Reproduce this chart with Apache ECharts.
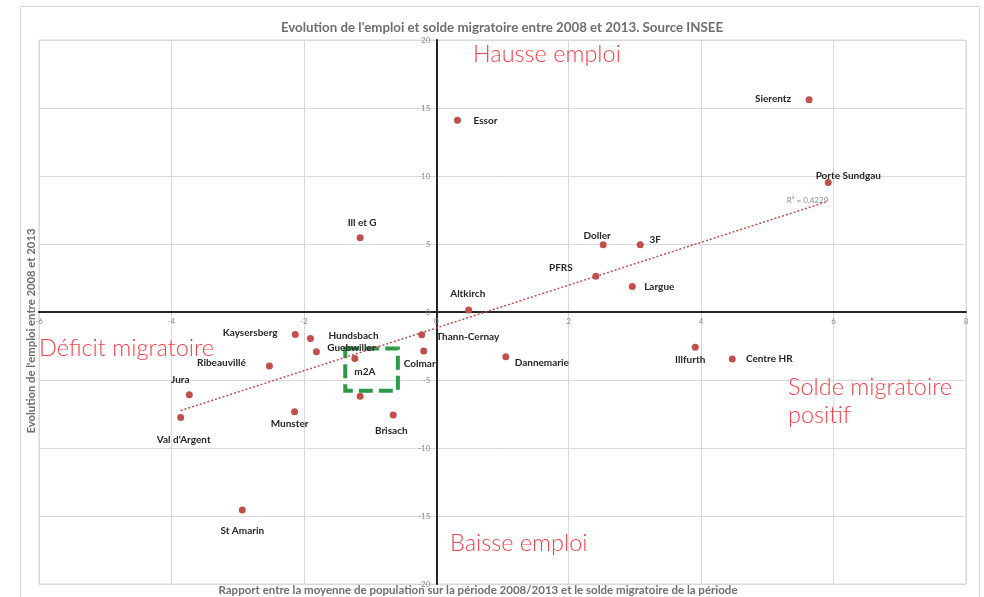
<!DOCTYPE html>
<html>
<head>
<meta charset="utf-8">
<script src="https://cdn.jsdelivr.net/npm/echarts@6/dist/echarts.min.js"></script>
<style>
  html, body { margin: 0; padding: 0; background: #fff; }
  #chart { width: 984px; height: 597px; }
</style>
</head>
<body>
<div id="chart"></div>
<script>
// communes / intercommunalités
var names = ["Essor", "Sierentz", "Porte Sundgau", "Doller", "3F", "PFRS", "Largue",
  "Ill et G", "Altkirch", "Kaysersberg", "Hundsbach", "Guebwiller", "Ribeauvillé",
  "m2A", "", "Brisach", "Colmar", "Thann-Cernay", "Jura", "Val d'Argent", "Munster",
  "St Amarin", "Dannemarie", "Illfurth", "Centre HR"];
// rapport population / solde migratoire
var xVals = [0.32, 5.63, 5.92, 2.52, 3.08, 2.41, 2.96,
  -1.15, 0.49, -2.13, -1.90, -1.81, -2.52,
  -1.23, -1.15, -0.65, -0.19, -0.22, -3.73, -3.86, -2.14,
  -2.93, 1.05, 3.91, 4.47];
// évolution de l'emploi
var yVals = [14.1, 15.6, 9.53, 4.95, 4.95, 2.62, 1.88,
  5.46, 0.15, -1.65, -1.94, -2.92, -3.97,
  -3.41, -6.2, -7.57, -2.87, -1.67, -6.08, -7.75, -7.33,
  -14.56, -3.29, -2.6, -3.46];
var xTicks = [-6, -4, -2, 0, 2, 4, 6, 8];
var yTicks = [-20, -15, -10, -5, 0, 5, 10, 15, 20];

// décalage des étiquettes par rapport au point (px)
var labelOffset = {
  "Essor": [28, 1], "Sierentz": [-36, -1], "Porte Sundgau": [20, -7],
  "Doller": [-6, -9], "3F": [15, -5], "PFRS": [-35, -9], "Largue": [27, 0],
  "Ill et G": [2, -15], "Altkirch": [-1, -16], "Kaysersberg": [-45, -2],
  "Hundsbach": [43, -3], "Guebwiller": [35, -4], "Ribeauvillé": [-48, -3],
  "m2A": [10, 13], "Brisach": [-2, 16], "Colmar": [-4, 13],
  "Thann-Cernay": [46, 2], "Jura": [-9, -15], "Val d'Argent": [3, 22],
  "Munster": [-5, 12], "St Amarin": [0, 21], "Dannemarie": [36, 6],
  "Illfurth": [-5, 12], "Centre HR": [37, 0]
};

var W = 984, H = 597;
var gLeft = 39, gRight = 18, gTop = 40, gBottom = 13;
var xMinA = xTicks[0], xMaxA = xTicks[xTicks.length - 1];
var yMinA = yTicks[0], yMaxA = yTicks[yTicks.length - 1];
// décalage des axes pour qu'ils passent par zéro (avec leurs étiquettes)
var plotW = W - gLeft - gRight, plotH = H - gTop - gBottom;
var yAxisShift = (0 - xMinA) / (xMaxA - xMinA) * plotW;
var xAxisShift = (0 - yMinA) / (yMaxA - yMinA) * plotH;

var chartDom = document.getElementById("chart");
var myChart = echarts.init(chartDom);

var points = names.map(function (n, i) {
  return {
    name: n,
    value: [xVals[i], yVals[i]],
    label: { offset: labelOffset[n] || [0, 0] }
  };
});

// courbe de tendance linéaire (moindres carrés)
var n = xVals.length, sx = 0, sy = 0, sxx = 0, sxy = 0;
for (var i = 0; i < n; i++) {
  sx += xVals[i]; sy += yVals[i];
  sxx += xVals[i] * xVals[i]; sxy += xVals[i] * yVals[i];
}
var slope = (n * sxy - sx * sy) / (n * sxx - sx * sx);
var inter = (sy - slope * sx) / n;
var xMin = Math.min.apply(null, xVals), xMax = Math.max.apply(null, xVals);
var trend = [[xMin, inter + slope * xMin], [xMax, inter + slope * xMax]];

var red = "#F0444A";
var quadFont = { fontFamily: "Lato", fontWeight: 300, fontSize: 23.5, fill: red, verticalAlign: "middle" };
function quad(txt, x, y) {
  return { type: "text", x: x, y: y, z: 10, style: Object.assign({ text: txt }, quadFont) };
}

var option = {
  animation: false,
  textStyle: { fontFamily: "Lato" },
  title: {
    text: "Evolution de l'emploi et solde migratoire entre 2008 et 2013. Source INSEE",
    left: 497,
    textAlign: "center",
    top: 16,
    textStyle: { fontSize: 13.3, fontWeight: "bold", color: "#6e6e6e", fontFamily: "Lato" }
  },
  grid: {
    left: gLeft, right: gRight, top: gTop, bottom: gBottom,
    show: true, borderColor: "#d9d9d9", borderWidth: 1
  },
  xAxis: {
    type: "value",
    min: xMinA, max: xMaxA, interval: 2,
    position: "bottom",
    offset: -xAxisShift,
    axisLine: { onZero: false, lineStyle: { color: "#262626", width: 2 } },
    axisTick: { show: false },
    axisLabel: { color: "#8c8c8c", fontSize: 8, margin: 5 },
    splitLine: { lineStyle: { color: "#d9d9d9" } }
  },
  yAxis: {
    type: "value",
    min: yMinA, max: yMaxA, interval: 5,
    position: "left",
    offset: -yAxisShift,
    axisLine: { onZero: false, lineStyle: { color: "#262626", width: 2 } },
    axisTick: { show: false },
    axisLabel: { color: "#8c8c8c", fontSize: 8, margin: 6 },
    splitLine: { lineStyle: { color: "#d9d9d9" } }
  },
  series: [
    {
      type: "line",
      data: trend,
      showSymbol: false,
      symbol: "none",
      silent: true,
      lineStyle: { color: "#C0504D", width: 1.5, type: [2, 2] },
      endLabel: {
        show: true,
        formatter: "R² = 0,4229",
        color: "#8c8c8c",
        fontSize: 8,
        align: "right",
        offset: [-8, -1]
      },
      z: 3
    },
    {
      type: "scatter",
      data: points,
      symbolSize: 7,
      itemStyle: { color: "#C0504D", opacity: 1 },
      label: {
        show: true,
        position: "inside",
        formatter: "{b}",
        color: "#262626",
        fontSize: 10,
        fontWeight: "bold",
        fontFamily: "Lato"
      },
      markArea: {
        silent: true,
        itemStyle: {
          color: "transparent",
          borderColor: "#2E9A47",
          borderWidth: 4,
          borderType: [14, 6]
        },
        data: [[{ coord: [-1.375, -2.68] }, { coord: [-0.58, -5.79] }]]
      },
      z: 4
    }
  ],
  graphic: [
    {
      type: "rect",
      silent: true,
      shape: { x: 20.5, y: 6.5, width: 959, height: 620 },
      style: { fill: "none", stroke: "#d9d9d9", lineWidth: 1 },
      z: -1
    },
    {
      type: "text",
      x: 478, y: 590,
      style: {
        text: "Rapport entre la moyenne de population sur la période 2008/2013 et le solde migratoire de la période",
        align: "center", verticalAlign: "middle",
        fontSize: 11.5, fontWeight: "bold", fill: "#6e6e6e", fontFamily: "Lato"
      }
    },
    {
      type: "text",
      x: 31, y: 331,
      rotation: Math.PI / 2,
      style: {
        text: "Evolution de l'emploi entre 2008 et 2013",
        align: "center", verticalAlign: "middle",
        fontSize: 11.3, fontWeight: "bold", fill: "#6e6e6e", fontFamily: "Lato"
      }
    },
    quad("Hausse emploi", 473, 54),
    quad("Déficit migratoire", 39, 348),
    quad("Baisse emploi", 450, 543),
    quad("Solde migratoire", 788, 387),
    quad("positif", 788, 415)
  ]
};

option && myChart.setOption(option);
</script>
</body>
</html>
